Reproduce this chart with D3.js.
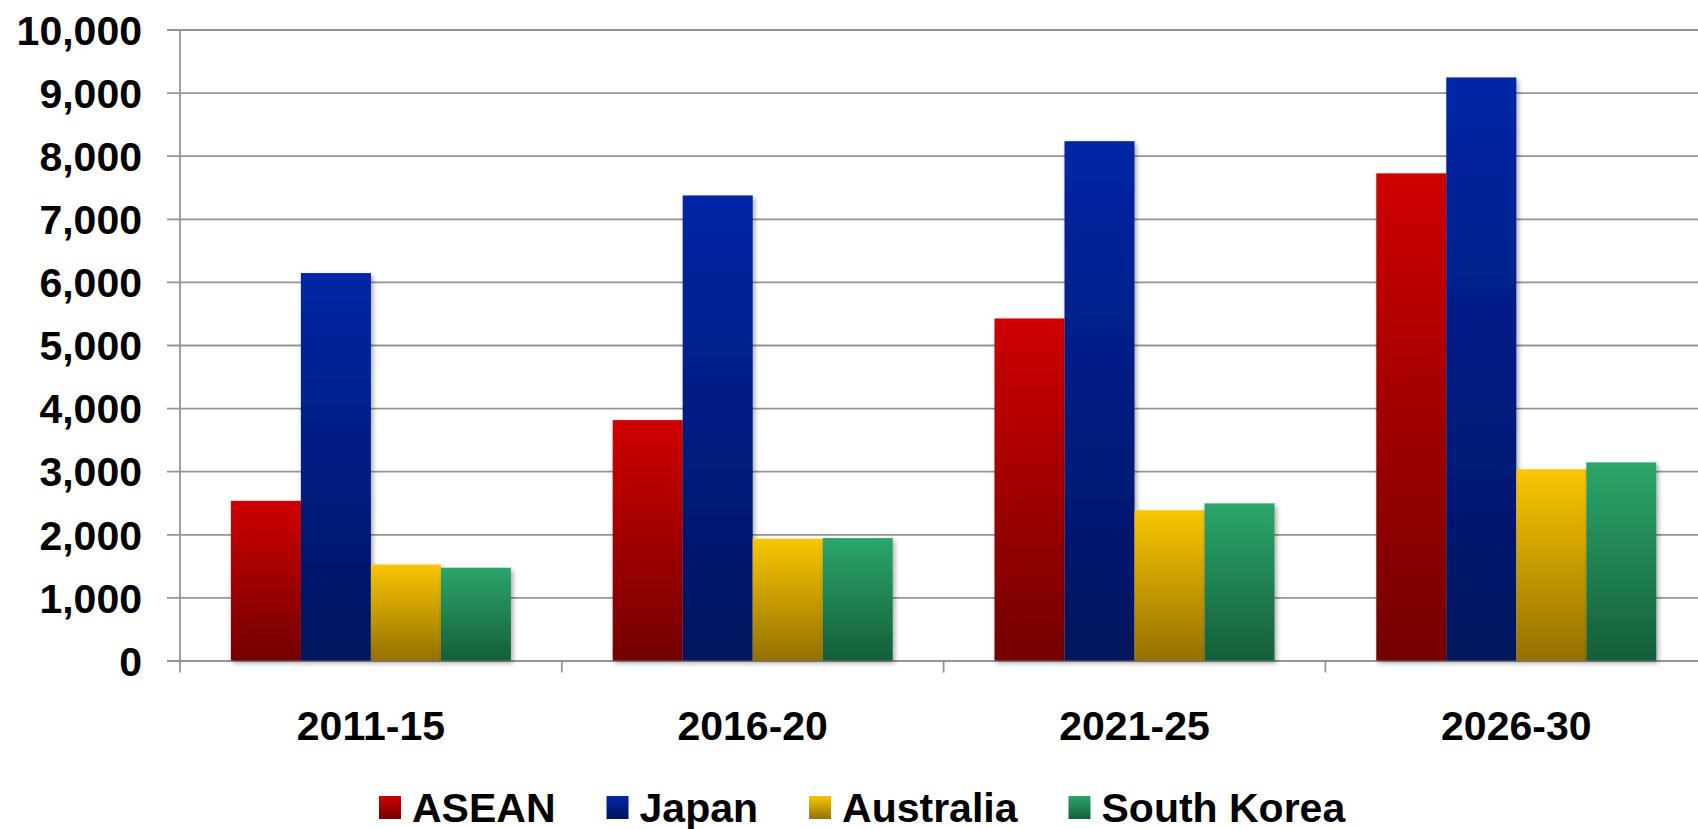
<!DOCTYPE html>
<html>
<head>
<meta charset="utf-8">
<script src="https://cdn.jsdelivr.net/npm/d3@7"></script>
<style>
  html, body { margin: 0; padding: 0; background: #fff; overflow: hidden; }
  svg { display: block; }
  text { font-family: "Liberation Sans", Arial, sans-serif; font-weight: bold; fill: #000; }
</style>
</head>
<body>
<svg id="chart" width="1698" height="829"></svg>
<script>
// Periods on the x axis
const periods = ["2011-15", "2016-20", "2021-25", "2026-30"];
// Series names, in legend / bar order
const seriesNames = ["ASEAN", "Japan", "Australia", "South Korea"];
// Values per series, one per period
const asean     = [2530, 3810, 5420, 7720];
const japan     = [6140, 7370, 8230, 9240];
const australia = [1520, 1930, 2380, 3030];
const korea     = [1470, 1940, 2490, 3140];
// Y axis ticks
const yTicks = [0, 1000, 2000, 3000, 4000, 5000, 6000, 7000, 8000, 9000, 10000];

const seriesValues = [asean, japan, australia, korea];
// Gradient stops (top, bottom) for each series
const seriesColors = [
  ["#cf0000", "#730000"],
  ["#0026a6", "#00145c"],
  ["#f9c600", "#947100"],
  ["#2ca66a", "#155e39"]
];

const W = 1698, H = 829;
const svg = d3.select("#chart");
const defs = svg.append("defs");

seriesColors.forEach((c, i) => {
  const g = defs.append("linearGradient")
    .attr("id", "grad" + i)
    .attr("x1", 0).attr("y1", 0).attr("x2", 0).attr("y2", 1);
  g.append("stop").attr("offset", "0%").attr("stop-color", c[0]);
  g.append("stop").attr("offset", "100%").attr("stop-color", c[1]);
});

const shadow = defs.append("filter").attr("id", "shadow")
  .attr("x", "-20%").attr("y", "-10%").attr("width", "150%").attr("height", "130%");
shadow.append("feDropShadow")
  .attr("dx", 2).attr("dy", 2.5).attr("stdDeviation", 2.5)
  .attr("flood-color", "#000").attr("flood-opacity", 0.35);

const axisX0 = 180, band = 381.8;
const x0 = d3.scaleBand().domain(periods).range([axisX0, axisX0 + band * periods.length]);
const x1 = d3.scaleBand().domain(seriesNames).range([0, x0.bandwidth()])
  .paddingInner(0).paddingOuter(0.727);
const y = d3.scaleLinear().domain([0, 10000]).range([660.5, 29.5]);

const gridColor = "#959595";

// Horizontal gridlines with their outer tick marks
const yAxis = d3.axisLeft(y).tickValues(yTicks).tickFormat(d3.format(",")).tickSize(0);
const gy = svg.append("g").attr("transform", `translate(${axisX0},0)`).call(yAxis);
gy.select(".domain").remove();
gy.selectAll(".tick line").remove();
gy.selectAll(".tick").append("line")
  .attr("x1", -13).attr("x2", W - axisX0)
  .attr("stroke", gridColor).attr("stroke-width", 1.8);
gy.selectAll(".tick text")
  .attr("x", -38)
  .attr("dy", "0.36em")
  .style("font-size", "41px")
  .style("font-family", "'Liberation Sans', Arial, sans-serif")
  .style("font-weight", "bold")
  .attr("fill", "#000");

// Vertical axis line
svg.append("line")
  .attr("x1", axisX0).attr("x2", axisX0)
  .attr("y1", y(10000)).attr("y2", y(0) + 12)
  .attr("stroke", gridColor).attr("stroke-width", 1.8);

// Category boundary ticks below the axis
svg.append("g").selectAll("line")
  .data(periods.slice(1))
  .join("line")
  .attr("x1", d => x0(d)).attr("x2", d => x0(d))
  .attr("y1", y(0)).attr("y2", y(0) + 12)
  .attr("stroke", gridColor).attr("stroke-width", 1.8);

// Bars, drawn series by series
seriesNames.forEach((name, si) => {
  svg.append("g")
    .selectAll("rect")
    .data(periods.map((p, pi) => ({ period: p, value: seriesValues[si][pi] })))
    .join("rect")
    .attr("x", d => x0(d.period) + x1(name))
    .attr("width", x1.bandwidth())
    .attr("y", d => y(d.value))
    .attr("height", d => y(0) - y(d.value))
    .attr("fill", `url(#grad${si})`)
    .attr("filter", "url(#shadow)");
});

// Category labels
svg.append("g").selectAll("text")
  .data(periods)
  .join("text")
  .attr("x", d => x0(d) + x0.bandwidth() / 2)
  .attr("y", 740)
  .attr("text-anchor", "middle")
  .style("font-size", "41px")
  .text(d => d);

// Legend
const legend = svg.append("g");
let lx = 379;
seriesNames.forEach((name, si) => {
  legend.append("rect")
    .attr("x", lx).attr("y", 796)
    .attr("width", 22).attr("height", 23)
    .attr("fill", `url(#grad${si})`);
  const t = legend.append("text")
    .attr("x", lx + 33).attr("y", 822)
    .style("font-size", "41px")
    .text(name);
  lx = lx + 33 + t.node().getComputedTextLength() + 51;
});
</script>
</body>
</html>
